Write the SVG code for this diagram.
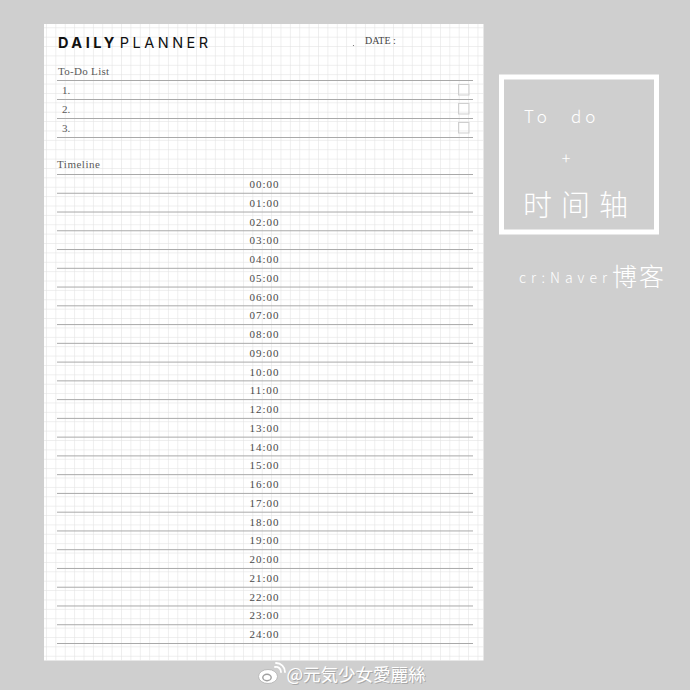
<svg xmlns="http://www.w3.org/2000/svg" width="690" height="690" viewBox="0 0 690 690">
<defs>
<pattern id="grid" patternUnits="userSpaceOnUse" x="46" y="27.3" width="9.38" height="9.38">
<path d="M0 0.25H9.38M0.25 0V9.38" fill="none" stroke="#e2e2e2" stroke-width="0.7"/>
</pattern>
<style>
.rule{stroke:#a9a9a9;stroke-width:1;fill:none}
.lbl{font-family:"Liberation Serif","DejaVu Serif",serif;font-size:11px;fill:#5a5a5a}
.time{font-family:"Liberation Serif","DejaVu Serif",serif;font-size:11px;fill:#4a4a4a;text-anchor:middle;letter-spacing:1px}
.box{fill:none;stroke:#cfcfcf;stroke-width:1}
.hand{font-family:"Noto Sans CJK SC","Noto Sans",sans-serif;font-weight:300;fill:#fff}
.wm{font-family:"Noto Sans CJK JP","Noto Sans CJK SC",sans-serif;font-size:17.5px}
</style>
</defs>
<rect width="690" height="690" fill="#cfcfcf"/>
<g id="paper">
<rect x="44" y="24" width="439.5" height="636.5" fill="#fff"/>
<rect x="44" y="24" width="439.5" height="636.5" fill="url(#grid)"/>
</g>
<g id="header">
<text x="58" y="48" font-family="Inter,'Liberation Sans',sans-serif" font-size="14.5" letter-spacing="3.5" fill="#111"><tspan font-weight="bold">DAILY</tspan><tspan dx="2">PLANNER</tspan></text>
<text x="365" y="44" class="lbl" style="font-size:10px;fill:#444">DATE :</text>
<circle cx="353.5" cy="45.5" r="0.6" fill="#666"/>
</g>
<g id="todo">
<text x="58" y="75" class="lbl" letter-spacing="0.3">To-Do List</text>
<line x1="57" y1="80.5" x2="473" y2="80.5" class="rule"/>
<line x1="57" y1="99.5" x2="473" y2="99.5" class="rule"/>
<line x1="57" y1="118.5" x2="473" y2="118.5" class="rule"/>
<line x1="57" y1="137.5" x2="473" y2="137.5" class="rule"/>
<text x="62" y="94" class="lbl">1.</text>
<text x="62" y="113" class="lbl">2.</text>
<text x="62" y="132" class="lbl">3.</text>
<rect x="458.5" y="84.5" width="10.5" height="10.5" class="box"/>
<rect x="458.5" y="103.5" width="10.5" height="10.5" class="box"/>
<rect x="458.5" y="122.5" width="10.5" height="10.5" class="box"/>
</g>
<g id="timeline">
<text x="57" y="168" class="lbl" letter-spacing="0.5">Timeline</text>
<g id="rules">
<path class="rule" d="M57 174.5H473M57 193.26H473M57 212.02H473M57 230.78H473M57 249.54H473M57 268.3H473M57 287.06H473M57 305.82H473M57 324.58H473M57 343.34H473M57 362.1H473M57 380.86H473M57 399.62H473M57 418.38H473M57 437.14H473M57 455.9H473M57 474.66H473M57 493.42H473M57 512.18H473M57 530.94H473M57 549.7H473M57 568.46H473M57 587.22H473M57 605.98H473M57 624.74H473M57 643.5H473"/>
</g>
<g id="times">
<text class="time" x="264.5" y="188">00:00</text>
<text class="time" x="264.5" y="206.76">01:00</text>
<text class="time" x="264.5" y="225.52">02:00</text>
<text class="time" x="264.5" y="244.28">03:00</text>
<text class="time" x="264.5" y="263.04">04:00</text>
<text class="time" x="264.5" y="281.8">05:00</text>
<text class="time" x="264.5" y="300.56">06:00</text>
<text class="time" x="264.5" y="319.32">07:00</text>
<text class="time" x="264.5" y="338.08">08:00</text>
<text class="time" x="264.5" y="356.84">09:00</text>
<text class="time" x="264.5" y="375.6">10:00</text>
<text class="time" x="264.5" y="394.36">11:00</text>
<text class="time" x="264.5" y="413.12">12:00</text>
<text class="time" x="264.5" y="431.88">13:00</text>
<text class="time" x="264.5" y="450.64">14:00</text>
<text class="time" x="264.5" y="469.4">15:00</text>
<text class="time" x="264.5" y="488.16">16:00</text>
<text class="time" x="264.5" y="506.92">17:00</text>
<text class="time" x="264.5" y="525.68">18:00</text>
<text class="time" x="264.5" y="544.44">19:00</text>
<text class="time" x="264.5" y="563.2">20:00</text>
<text class="time" x="264.5" y="581.96">21:00</text>
<text class="time" x="264.5" y="600.72">22:00</text>
<text class="time" x="264.5" y="619.48">23:00</text>
<text class="time" x="264.5" y="638.24">24:00</text>
</g>
</g>
<g id="titlecard">
<rect x="501.5" y="77" width="155" height="155" fill="none" stroke="#fff" stroke-width="5"/>
<text class="hand" x="524" y="123" font-size="17"><tspan letter-spacing="4">To</tspan><tspan dx="20" letter-spacing="4">do</tspan></text>
<text class="hand" x="566" y="164" font-size="16" text-anchor="middle">+</text>
<text class="hand" x="523" y="216" font-size="29" letter-spacing="9">时间轴</text>
<text class="hand" x="519" y="283"><tspan font-size="14" letter-spacing="5">cr:Naver</tspan><tspan font-size="25" dy="3" letter-spacing="2">博客</tspan></text>
</g>
<g id="watermark">
<ellipse cx="268" cy="676.5" rx="9.5" ry="7" fill="#fff" stroke="#b0b0b0" stroke-width="0.8"/>
<ellipse cx="267" cy="677.5" rx="4.2" ry="3.2" fill="none" stroke="#a0a0a0" stroke-width="1.4"/>
<path d="M275 667a5 5 0 0 1 6 5M276 663a9 9 0 0 1 9 9" fill="none" stroke="#fff" stroke-width="1.8" stroke-linecap="round"/>
<text x="287.5" y="682" class="wm" fill="#a8a8a8">@元気少女愛麗絲</text>
<text x="286.5" y="681" class="wm" fill="#fff">@元気少女愛麗絲</text>
</g>
</svg>
